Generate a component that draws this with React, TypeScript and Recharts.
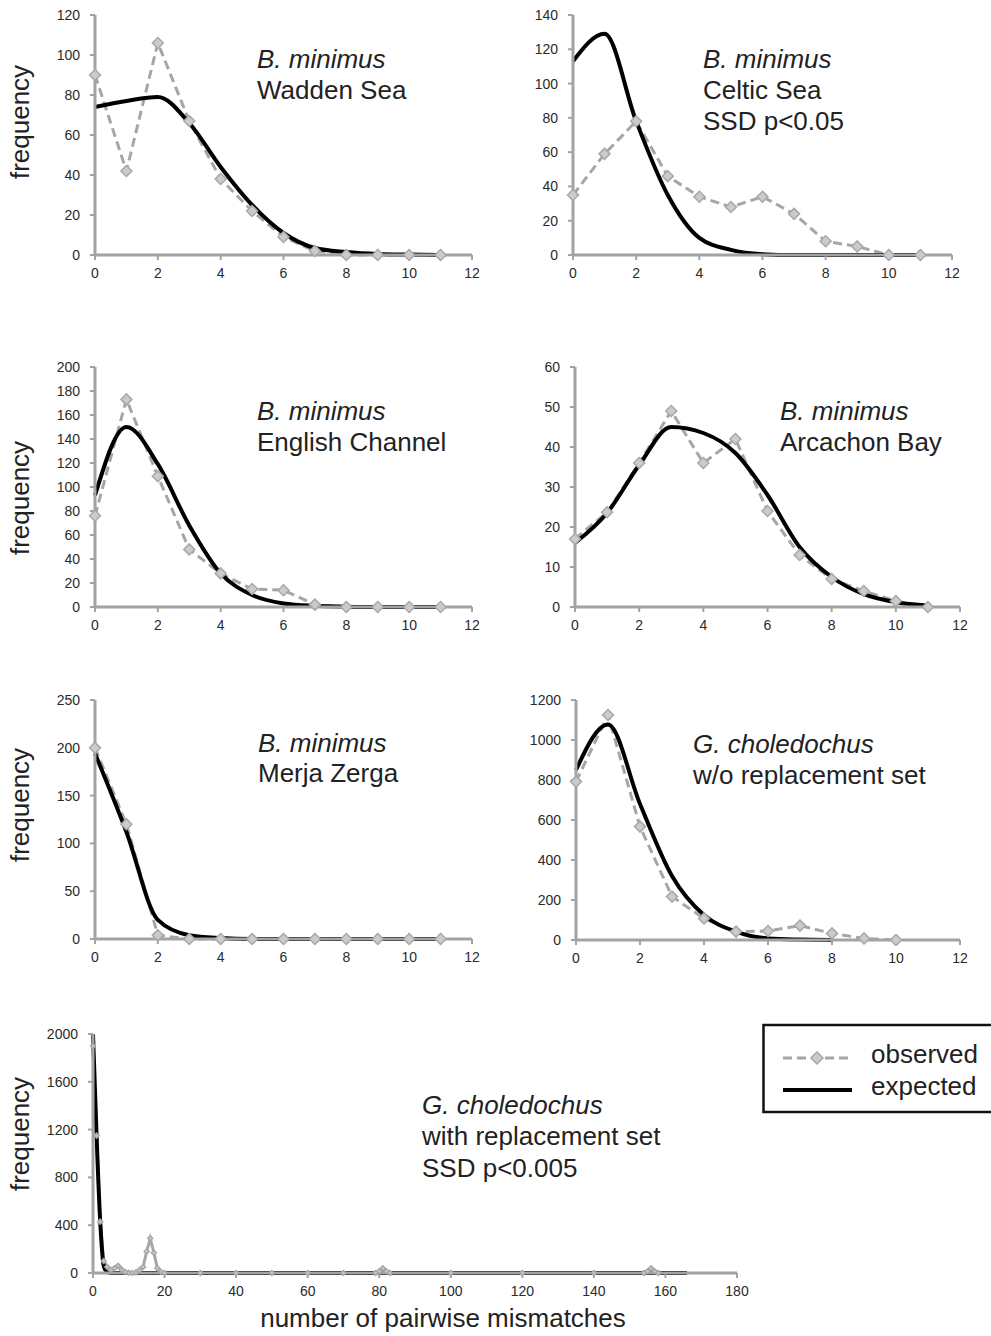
import { LineChart, Line, XAxis, YAxis } from "recharts";

const FONT = "'Liberation Sans', Arial, Helvetica, sans-serif";
const AXIS_GREY = "#a3a3a3";
const OBS_GREY = "#a6a6a6";

// pairwise mismatch classes used by the six small panels
const mismatches = [0, 1, 2, 3, 4, 5, 6, 7, 8, 9, 10, 11];

// B. minimus, Wadden Sea
const waddenObserved = [90, 42, 106, 67, 38, 22, 9, 2, 0, 0, 0, 0];
const waddenExpected = [74, 77, 79, 66, 44, 25, 11, 3.5, 1.5, 0.5, 0.2, 0];

// B. minimus, Celtic Sea
const celticObserved = [35, 59, 78, 46, 34, 28, 34, 24, 8, 5, 0, 0];
const celticExpected = [113, 129, 78, 35, 10, 3, 0.5, 0, 0, 0, 0, 0];

// B. minimus, English Channel
const englishObserved = [76, 173, 109, 48, 28, 15, 14, 2, 0, 0, 0, 0];
const englishExpected = [93, 150, 119, 68, 28, 10, 3, 1, 0.3, 0, 0, 0];

// B. minimus, Arcachon Bay
const arcachonObserved = [17, 23.7, 36, 49, 36, 42, 24, 13, 7, 4, 1.5, 0];
const arcachonExpected = [16, 23.5, 35.5, 45, 43.5, 38.5, 28, 15, 7.5, 3.2, 1.2, 0.4];

// B. minimus, Merja Zerga
const merjaObserved = [200, 120, 4, 0, 0, 0, 0, 0, 0, 0, 0, 0];
const merjaExpected = [194, 112, 20, 4, 1, 0, 0, 0, 0, 0, 0, 0];

// G. choledochus without replacement set
const choledochusObservedX = [0, 1, 2, 3, 4, 5, 6, 7, 8, 9, 10];
const choledochusObserved = [792, 1125, 567, 217, 108, 42, 45, 72, 33, 8, 0];
const choledochusExpectedX = [0, 1, 2, 3, 4, 5, 6, 7, 8];
const choledochusExpected = [850, 1078, 680, 320, 125, 42, 8, 2, 0];

// G. choledochus with replacement set
const replacementObservedX = [
  0, 1, 2, 3, 4, 5, 6, 7, 8, 9, 10, 11, 12, 13, 14, 15, 16, 17, 18, 19, 20,
  30, 40, 50, 60, 70, 79, 80, 81, 82, 83, 100, 120, 140, 154, 155, 156, 157, 158,
];
const replacementObserved = [
  1900, 1150, 430, 100, 50, 25, 40, 60, 30, 8, 2, 0, 5, 25, 50, 180, 290, 170, 40, 8, 0,
  0, 0, 0, 0, 0, 0, 15, 40, 15, 0, 0, 0, 0, 0, 15, 40, 15, 0,
];
const replacementExpectedX = [0, 1, 2, 3, 4, 5, 6, 166];
const replacementExpected = [2000, 1150, 440, 60, 8, 1, 0, 0];

// tick labels
const smallXTicks = [0, 2, 4, 6, 8, 10, 12];
const wideXTicks = [0, 20, 40, 60, 80, 100, 120, 140, 160, 180];
const waddenYTicks = [0, 20, 40, 60, 80, 100, 120];
const celticYTicks = [0, 20, 40, 60, 80, 100, 120, 140];
const englishYTicks = [0, 20, 40, 60, 80, 100, 120, 140, 160, 180, 200];
const arcachonYTicks = [0, 10, 20, 30, 40, 50, 60];
const merjaYTicks = [0, 50, 100, 150, 200, 250];
const choledochusYTicks = [0, 200, 400, 600, 800, 1000, 1200];
const replacementYTicks = [0, 400, 800, 1200, 1600, 2000];

const toPoints = (xs: number[], ys: number[]) => xs.map((x, i) => ({ x, y: ys[i] }));

const Diamond = (props: any) => {
  const { cx, cy, size } = props;
  if (cx == null || cy == null) return null;
  const r = size;
  return (
    <polygon
      points={`${cx},${cy - r} ${cx + r},${cy} ${cx},${cy + r} ${cx - r},${cy}`}
      fill="#cbcbcb"
      stroke="#a8a8a8"
      strokeWidth={1.5}
    />
  );
};

type Box = { left: number; top: number; width: number; height: number };

function Panel(props: {
  box: Box;
  xTicks: number[];
  yTicks: number[];
  observed: { x: number; y: number }[];
  expected: { x: number; y: number }[];
  fontSize: number;
  marker: number;
  dash: string;
}) {
  const { box, xTicks, yTicks, observed, expected, fontSize, marker, dash } = props;
  const ml = 60;
  const mt = 10;
  const mr = 20;
  const tick = { fill: "#2a2a2a", fontSize, fontFamily: FONT };
  return (
    <div style={{ position: "absolute", left: box.left - ml, top: box.top - mt }}>
      <LineChart
        width={box.width + ml + mr}
        height={box.height + mt + 35}
        margin={{ top: mt, right: mr, bottom: 5, left: 0 }}
      >
        <XAxis
          type="number"
          dataKey="x"
          domain={[xTicks[0], xTicks[xTicks.length - 1]]}
          ticks={xTicks}
          interval={0}
          height={30}
          axisLine={{ stroke: AXIS_GREY, strokeWidth: 3 }}
          tickLine={{ stroke: AXIS_GREY, strokeWidth: 2 }}
          tickSize={5}
          tickMargin={8}
          tick={tick}
        />
        <YAxis
          type="number"
          dataKey="y"
          domain={[0, yTicks[yTicks.length - 1]]}
          ticks={yTicks}
          interval={0}
          width={ml}
          axisLine={{ stroke: AXIS_GREY, strokeWidth: 3 }}
          tickLine={{ stroke: AXIS_GREY, strokeWidth: 2 }}
          tickSize={5}
          tickMargin={10}
          tick={tick}
        />
        <Line
          data={observed}
          dataKey="y"
          type="linear"
          stroke={OBS_GREY}
          strokeWidth={3}
          strokeDasharray={dash}
          dot={(p: any) => <Diamond key={`o${p.index}`} {...p} size={marker} />}
          activeDot={false}
          isAnimationActive={false}
        />
        <Line
          data={expected}
          dataKey="y"
          type="monotone"
          stroke="#000"
          strokeWidth={4}
          dot={false}
          activeDot={false}
          isAnimationActive={false}
        />
      </LineChart>
    </div>
  );
}

const annotations: { x: number; lines: { y: number; text: string; italic?: boolean }[] }[] = [
  { x: 257, lines: [{ y: 68, text: "B. minimus", italic: true }, { y: 99, text: "Wadden Sea" }] },
  {
    x: 703,
    lines: [
      { y: 68, text: "B. minimus", italic: true },
      { y: 99, text: "Celtic Sea" },
      { y: 130, text: "SSD p<0.05" },
    ],
  },
  { x: 257, lines: [{ y: 420, text: "B. minimus", italic: true }, { y: 451, text: "English Channel" }] },
  { x: 780, lines: [{ y: 420, text: "B. minimus", italic: true }, { y: 451, text: "Arcachon Bay" }] },
  { x: 258, lines: [{ y: 752, text: "B. minimus", italic: true }, { y: 782, text: "Merja Zerga" }] },
  {
    x: 693,
    lines: [{ y: 753, text: "G. choledochus", italic: true }, { y: 784, text: "w/o replacement set" }],
  },
  {
    x: 422,
    lines: [
      { y: 1114, text: "G. choledochus", italic: true },
      { y: 1145, text: "with replacement set" },
      { y: 1177, text: "SSD p<0.005" },
    ],
  },
];

const frequencyLabelY = [122, 498, 805, 1134];

export default function App() {
  return (
    <div
      style={{
        position: "absolute",
        left: 0,
        top: 0,
        width: 991,
        height: 1336,
        background: "#fff",
        overflow: "hidden",
        fontFamily: FONT,
      }}
    >
      <Panel
        box={{ left: 95, top: 15, width: 377, height: 240 }}
        xTicks={smallXTicks}
        yTicks={waddenYTicks}
        observed={toPoints(mismatches, waddenObserved)}
        expected={toPoints(mismatches, waddenExpected)}
        fontSize={14}
        marker={5.5}
        dash="9 5"
      />
      <Panel
        box={{ left: 573, top: 15, width: 379, height: 240 }}
        xTicks={smallXTicks}
        yTicks={celticYTicks}
        observed={toPoints(mismatches, celticObserved)}
        expected={toPoints(mismatches, celticExpected)}
        fontSize={14}
        marker={5.5}
        dash="9 5"
      />
      <Panel
        box={{ left: 95, top: 367, width: 377, height: 240 }}
        xTicks={smallXTicks}
        yTicks={englishYTicks}
        observed={toPoints(mismatches, englishObserved)}
        expected={toPoints(mismatches, englishExpected)}
        fontSize={14}
        marker={5.5}
        dash="9 5"
      />
      <Panel
        box={{ left: 575, top: 367, width: 385, height: 240 }}
        xTicks={smallXTicks}
        yTicks={arcachonYTicks}
        observed={toPoints(mismatches, arcachonObserved)}
        expected={toPoints(mismatches, arcachonExpected)}
        fontSize={14}
        marker={5.5}
        dash="9 5"
      />
      <Panel
        box={{ left: 95, top: 700, width: 377, height: 239 }}
        xTicks={smallXTicks}
        yTicks={merjaYTicks}
        observed={toPoints(mismatches, merjaObserved)}
        expected={toPoints(mismatches, merjaExpected)}
        fontSize={14}
        marker={5.5}
        dash="9 5"
      />
      <Panel
        box={{ left: 576, top: 700, width: 384, height: 240 }}
        xTicks={smallXTicks}
        yTicks={choledochusYTicks}
        observed={toPoints(choledochusObservedX, choledochusObserved)}
        expected={toPoints(choledochusExpectedX, choledochusExpected)}
        fontSize={14}
        marker={5.5}
        dash="9 5"
      />
      <Panel
        box={{ left: 93, top: 1034, width: 644, height: 239 }}
        xTicks={wideXTicks}
        yTicks={replacementYTicks}
        observed={toPoints(replacementObservedX, replacementObserved)}
        expected={toPoints(replacementExpectedX, replacementExpected)}
        fontSize={14}
        marker={2.5}
        dash="0"
      />

      <svg
        width={991}
        height={1336}
        style={{ position: "absolute", left: 0, top: 0, pointerEvents: "none" }}
        fontFamily={FONT}
      >
        {annotations.map((a, i) =>
          a.lines.map((l, j) => (
            <text
              key={`${i}-${j}`}
              x={a.x}
              y={l.y}
              fontSize={26}
              fill="#222"
              fontStyle={l.italic ? "italic" : "normal"}
            >
              {l.text}
            </text>
          ))
        )}
        {frequencyLabelY.map((y, i) => (
          <text
            key={`f${i}`}
            x={29}
            y={y}
            fontSize={26}
            fill="#222"
            textAnchor="middle"
            transform={`rotate(-90 29 ${y})`}
          >
            frequency
          </text>
        ))}
        <text x={443} y={1327} fontSize={26} fill="#222" textAnchor="middle">
          number of pairwise mismatches
        </text>

        {/* legend */}
        <rect x={763.5} y={1025} width={240} height={87} fill="#fff" stroke="#111" strokeWidth={2.5} />
        <line x1={783} y1={1058} x2={852} y2={1058} stroke={OBS_GREY} strokeWidth={3} strokeDasharray="9 5" />
        <polygon points="817,1052 823,1058 817,1064 811,1058" fill="#cbcbcb" stroke="#a8a8a8" strokeWidth={1.5} />
        <line x1={783} y1={1090} x2={852} y2={1090} stroke="#000" strokeWidth={4} />
        <text x={871} y={1063} fontSize={26} fill="#222">
          observed
        </text>
        <text x={871} y={1095} fontSize={26} fill="#222">
          expected
        </text>
      </svg>
    </div>
  );
}
